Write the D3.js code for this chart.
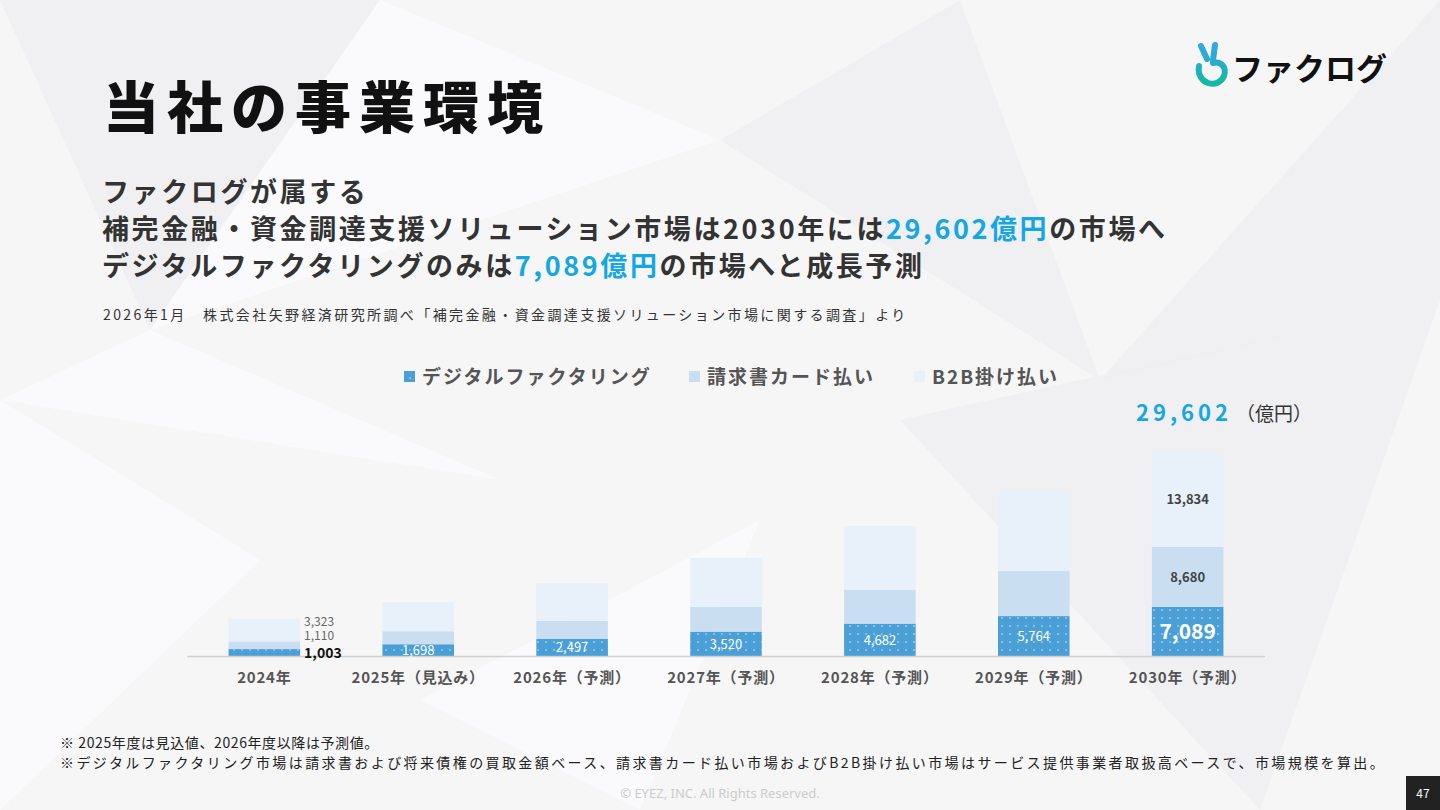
<!DOCTYPE html>
<html><head><meta charset="utf-8">
<script src="https://cdn.jsdelivr.net/npm/d3@7/dist/d3.min.js"></script>
<style>
body{margin:0;background:#f7f7f8;font-family:"Noto Sans CJK JP","Noto Sans",sans-serif;}
svg{display:block}
</style></head><body>
<svg id="c" width="1440" height="810"></svg>
<script>
var years = ['2024年', '2025年（見込み）', '2026年（予測）', '2027年（予測）', '2028年（予測）', '2029年（予測）', '2030年（予測）'],
    digital = [1003, 1698, 2497, 3520, 4682, 5764, 7089],
    card = [1110, 1880, 2600, 3600, 4900, 6500, 8680],
    b2b = [3323, 4220, 5440, 7030, 9190, 11700, 13834],
    seriesNames = ['デジタルファクタリング', '請求書カード払い', 'B2B掛け払い'],
    seriesColors = ['#4a9fd6', '#c9def0', '#e8f1fa'];

var svg = d3.select('#c'), font = '"Noto Sans CJK JP",sans-serif';

// low-poly background
var bgPolys = [
  [[0,0],[380,0],[150,330]], [[380,0],[720,140],[150,330]], [[720,140],[960,0],[1100,380]],
  [[0,400],[260,560],[0,810]], [[900,420],[1440,300],[1260,810]], [[420,700],[760,520],[640,810]],
  [[1440,0],[1100,380],[1440,300]], [[150,330],[500,480],[0,400]]
];
svg.append('rect').attr('width', 1440).attr('height', 810).attr('fill', '#f6f6f7');
svg.selectAll('.bg').data(bgPolys).enter().append('polygon')
  .attr('points', function(d) { return d.join(' '); })
  .attr('fill', function(d, i) { return i % 2 ? '#fbfbfc' : '#efeff1'; })
  .attr('opacity', 0.8);

var defs = svg.append('defs');
var pat = defs.append('pattern').attr('id', 'dots').attr('width', 8).attr('height', 8)
  .attr('patternUnits', 'userSpaceOnUse');
pat.append('rect').attr('width', 8).attr('height', 8).attr('fill', seriesColors[0]);
pat.append('circle').attr('cx', 2).attr('cy', 2).attr('r', 0.8).attr('fill', '#cfe6f6');
var lg = defs.append('linearGradient').attr('id', 'lg').attr('x1', 0).attr('y1', 0).attr('x2', 0).attr('y2', 1);
lg.append('stop').attr('offset', 0).attr('stop-color', '#35a6e8');
lg.append('stop').attr('offset', 1).attr('stop-color', '#13b9a0');

// logo
var logo = svg.append('g');
logo.append('path').attr('d', 'M1201,46 L1207,59 M1215,45 L1213,60 M1199,66 C1196,84 1218,90 1224,76 C1227,67 1221,61 1213,63')
  .attr('fill', 'none').attr('stroke', 'url(#lg)').attr('stroke-width', 6).attr('stroke-linecap', 'round');
logo.append('text').attr('x', 1232).attr('y', 80).attr('font-size', 31).attr('font-weight', 700)
  .attr('fill', '#111').attr('font-family', font).text('ファクログ');

// titles
svg.append('text').attr('x', 103).attr('y', 128).attr('font-size', 56).attr('font-weight', 900)
  .attr('letter-spacing', 8).attr('fill', '#111').attr('font-family', font).text('当社の事業環境');
var lines = [
  [['ファクログが属する', '#333']],
  [['補完金融・資金調達支援ソリューション市場は2030年には', '#333'], ['29,602億円', '#14a7e4'], ['の市場へ', '#333']],
  [['デジタルファクタリングのみは', '#333'], ['7,089億円', '#14a7e4'], ['の市場へと成長予測', '#333']]
];
lines.forEach(function(l, i) {
  var t = svg.append('text').attr('x', 102).attr('y', 202 + i * 37).attr('font-size', 27)
    .attr('font-weight', 700).attr('letter-spacing', 2.6).attr('font-family', font);
  l.forEach(function(s) { t.append('tspan').attr('fill', s[1]).text(s[0]); });
});
svg.append('text').attr('x', 103).attr('y', 320).attr('font-size', 14).attr('fill', '#333')
  .attr('letter-spacing', 2.4).attr('font-family', font).attr('xml:space', 'preserve')
  .text('2026年1月　株式会社矢野経済研究所調べ「補完金融・資金調達支援ソリューション市場に関する調査」より');

// legend
var legX = [404, 689, 914];
seriesNames.forEach(function(n, i) {
  svg.append('rect').attr('x', legX[i]).attr('y', 371).attr('width', 11).attr('height', 11)
    .attr('fill', i === 0 ? 'url(#dots)' : seriesColors[i]);
  svg.append('text').attr('x', legX[i] + 18).attr('y', 384).attr('font-size', 19).attr('font-weight', 700)
    .attr('letter-spacing', 2).attr('fill', '#555').attr('font-family', font).text(n);
});

// chart
var x = d3.scaleBand().domain(years).range([187, 1265]).paddingInner(0.535).paddingOuter(0.27);
var y = d3.scaleLinear().domain([0, 29602]).range([656, 451]);
var data = years.map(function(yr, i) { return { year: yr, digital: digital[i], card: card[i], b2b: b2b[i] }; });
var stack = d3.stack().keys(['digital', 'card', 'b2b'])(data);
var fills = ['url(#dots)', seriesColors[1], seriesColors[2]];
svg.append('g').selectAll('g').data(stack).enter().append('g')
  .attr('fill', function(d, i) { return fills[i]; })
  .selectAll('rect').data(function(d) { return d; }).enter().append('rect')
  .attr('x', function(d) { return x(d.data.year); })
  .attr('y', function(d) { return y(d[1]); })
  .attr('width', x.bandwidth())
  .attr('height', function(d) { return y(d[0]) - y(d[1]); });

svg.append('line').attr('x1', 187).attr('x2', 1265).attr('y1', 656.5).attr('y2', 656.5)
  .attr('stroke', '#d0d0d0').attr('stroke-width', 1.5);

var xAxis = svg.append('g').attr('transform', 'translate(0,656)')
  .call(d3.axisBottom(x).tickSize(0).tickPadding(16));
xAxis.select('.domain').remove();
xAxis.selectAll('text').attr('font-size', 15).attr('font-weight', 700).attr('fill', '#555')
  .attr('letter-spacing', 0.8).attr('font-family', font);

// labels
data.forEach(function(d, i) {
  var cx = x(d.year) + x.bandwidth() / 2;
  if (i === 0) {
    var lx = x(d.year) + x.bandwidth() + 4;
    svg.append('text').attr('x', lx).attr('y', 626).attr('font-size', 12).attr('fill', '#666').attr('font-family', font).text(d3.format(',')(d.b2b));
    svg.append('text').attr('x', lx).attr('y', 640).attr('font-size', 12).attr('fill', '#666').attr('font-family', font).text(d3.format(',')(d.card));
    svg.append('text').attr('x', lx).attr('y', 658).attr('font-size', 14).attr('font-weight', 700).attr('fill', '#111').attr('font-family', font).text(d3.format(',')(d.digital));
    return;
  }
  var last = i === data.length - 1;
  svg.append('text').attr('x', cx).attr('y', (y(0) + y(d.digital)) / 2 + (last ? 8 : 5))
    .attr('text-anchor', 'middle').attr('font-size', last ? 21 : 13).attr('font-weight', last ? 700 : 400)
    .attr('fill', '#fff').attr('font-family', font).text(d3.format(',')(d.digital));
  if (last) {
    svg.append('text').attr('x', cx).attr('y', (y(d.digital) + y(d.digital + d.card)) / 2 + 5)
      .attr('text-anchor', 'middle').attr('font-size', 13).attr('font-weight', 700).attr('fill', '#444')
      .attr('font-family', font).text(d3.format(',')(d.card));
    svg.append('text').attr('x', cx).attr('y', (y(d.digital + d.card) + y(d.digital + d.card + d.b2b)) / 2 + 5)
      .attr('text-anchor', 'middle').attr('font-size', 13).attr('font-weight', 700).attr('fill', '#444')
      .attr('font-family', font).text(d3.format(',')(d.b2b));
  }
});
var tot = svg.append('text').attr('x', 1136).attr('y', 421).attr('font-family', font);
tot.append('tspan').attr('font-size', 22).attr('font-weight', 700).attr('fill', '#14a7e4')
  .attr('letter-spacing', 4).text(d3.format(',')(29602));
tot.append('tspan').attr('font-size', 19).attr('fill', '#333').attr('dx', 4).text('（億円）');

// footnotes
svg.append('text').attr('x', 60).attr('y', 748).attr('font-size', 14).attr('fill', '#222').attr('font-family', font)
  .attr('letter-spacing', 0.6).text('※ 2025年度は見込値、2026年度以降は予測値。');
svg.append('text').attr('x', 60).attr('y', 768).attr('font-size', 14).attr('fill', '#222').attr('font-family', font)
  .attr('letter-spacing', 2.4).text('※デジタルファクタリング市場は請求書および将来債権の買取金額ベース、請求書カード払い市場およびB2B掛け払い市場はサービス提供事業者取扱高ベースで、市場規模を算出。');
svg.append('text').attr('x', 720).attr('y', 798).attr('text-anchor', 'middle').attr('font-size', 13)
  .attr('fill', '#ccc').attr('font-family', '"Noto Sans",sans-serif').text('© EYEZ, INC. All Rights Reserved.');
svg.append('rect').attr('x', 1406).attr('y', 776).attr('width', 34).attr('height', 34).attr('fill', '#222');
svg.append('text').attr('x', 1423).attr('y', 798).attr('text-anchor', 'middle').attr('font-size', 12)
  .attr('fill', '#fff').attr('font-family', font).text('47');
</script>
</body></html>
